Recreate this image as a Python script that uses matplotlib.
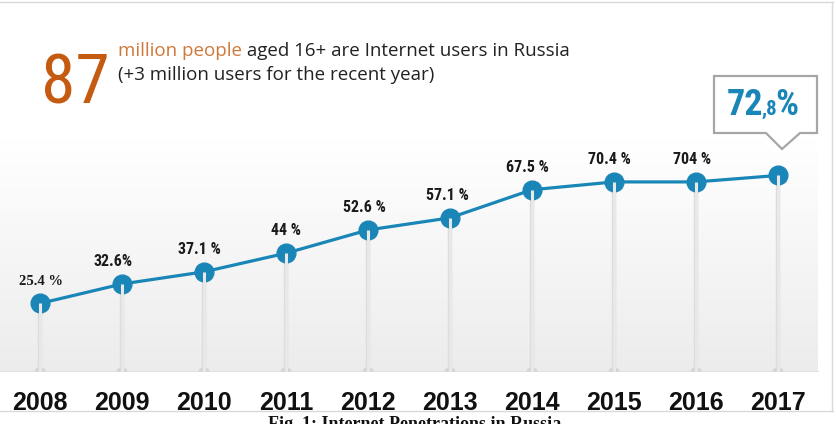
import matplotlib
matplotlib.use("Agg")
import matplotlib.pyplot as plt
import numpy as np
from matplotlib.patches import Polygon, Ellipse
from matplotlib.colors import LinearSegmentedColormap

years = ["2008", "2009", "2010", "2011", "2012", "2013", "2014", "2015", "2016", "2017"]
values = [25.4, 32.6, 37.1, 44.0, 52.6, 57.1, 67.5, 70.4, 70.4, 72.8]
value_labels = ["25.4 %", "32.6%", "37.1 %", "44 %", "52.6 %", "57.1 %", "67.5 %", "70.4 %", "704 %", ""]
headline_number = "87"
headline_line1_a = "million people"
headline_line1_b = " aged 16+ are Internet users in Russia"
headline_line2 = "(+3 million users for the recent year)"
callout_parts = ["72", ",8", "%"]
caption = "Fig. 1: Internet Penetrations in Russia"

W, H = 837, 424
BLUE = "#1a86b8"
ORANGE = "#c55a11"
ORANGE_L = "#d0783a"
GRAY = "#d9d9d9"
NARROW = ["Liberation Sans Narrow", "Roboto Condensed", "DejaVu Sans"]

fig = plt.figure(figsize=(W / 100, H / 100), dpi=100)
fig.patch.set_facecolor("white")

# main axes: x pixel = 40 + 82*i ; y pixel = 372 - 2.7*v
base_px = 372
ppv = 2.7
ax = fig.add_axes([0, (H - base_px) / H, 1, base_px / H])
ax.set_xlim(-40 / 82, (W - 40) / 82)
ax.set_ylim(0, base_px / ppv)
ax.axis("off")

x = np.arange(len(years))

# gradient panel (white at top, light gray at bottom)
panel_top = (base_px - 140) / ppv
grad = np.linspace(0.0, 1.0, 256).reshape(-1, 1)
cmap = LinearSegmentedColormap.from_list("g", ["#ececec", "#ffffff"])
ax.imshow(grad, extent=(-40 / 82, (818 - 40) / 82, 0, panel_top), origin="lower",
          cmap=cmap, aspect="auto", zorder=0, vmin=0, vmax=1)
ax.plot([-40 / 82, (818 - 40) / 82], [0, 0], color="#e0e0e0", lw=1.5, zorder=1)

# stems
for xi, v in zip(x, values):
    ax.plot([xi, xi], [0, v], color="#dcdcdc", lw=3.2, solid_capstyle="butt", zorder=2)
    ax.add_patch(Ellipse((xi, 0.5), 0.11, 1.8, color="#d6d6d6", zorder=2))

ax.plot(x, values, color=BLUE, lw=2.3, zorder=3)
ax.plot(x, values, "o", color=BLUE, ms=13.5, zorder=4)
for xi, v in zip(x, values):
    ax.plot([xi, xi], [0, v], color="#e8e8e8", lw=2.2, solid_capstyle="butt", zorder=5)

# value labels
dxs = [1, -9, -4, 0, -3, -2, -4, -4, -4, 0]
for i, (xi, v, lab) in enumerate(zip(x, values, value_labels)):
    if not lab:
        continue
    if i == 0:
        fam, size = ["Liberation Serif", "DejaVu Serif"], 10.5
    else:
        fam, size = NARROW, 11.5
    ax.annotate(lab, (xi, v), xytext=(dxs[i] * 0.75, 16), textcoords="offset points",
                ha="center", va="center", fontsize=size, fontweight="bold",
                family=fam, color="#1a1a1a", zorder=6)

# year labels
for xi, yl in zip(x, years):
    ax.text(xi, -31 / ppv, yl, ha="center", va="center", fontsize=18,
            fontweight="bold", family=["Liberation Sans", "DejaVu Sans"], color="#111111")

# overlay in pixel coordinates
ov = fig.add_axes([0, 0, 1, 1], zorder=10)
ov.set_xlim(0, W)
ov.set_ylim(H, 0)
ov.axis("off")
ov.patch.set_alpha(0)

# frame lines
ov.plot([0, 833], [1.5, 1.5], color=GRAY, lw=1)
ov.plot([832.5, 832.5], [1.5, 411], color=GRAY, lw=1)
ov.plot([0, 833], [411, 411], color=GRAY, lw=1)

# headline
ov.text(110, 103, headline_number, fontsize=50, color=ORANGE,
        family=NARROW, ha="right", va="baseline")
t1 = ov.text(118, 56, headline_line1_a, fontsize=13.5, color=ORANGE_L,
             family=["Open Sans", "DejaVu Sans"], va="baseline")
fig.canvas.draw()
bb = t1.get_window_extent()
ov.text(118 + bb.width, 56, headline_line1_b, fontsize=13.5, color="#222222",
        family=["Open Sans", "DejaVu Sans"], va="baseline")
ov.text(118, 80, headline_line2, fontsize=13.5, color="#222222",
        family=["Open Sans", "DejaVu Sans"], va="baseline")

# callout
box = [(714, 76), (817, 76), (817, 133), (800, 133), (782, 149), (766, 133), (714, 133)]
ov.add_patch(Polygon(box, closed=True, facecolor="white", edgecolor="#a6a6a6", lw=1.6))
t72 = ov.text(763, 115, callout_parts[0], fontsize=26, fontweight="bold", color=BLUE,
              family=NARROW, ha="right", va="baseline")
t8 = ov.text(762, 115, callout_parts[1], fontsize=15, fontweight="bold", color=BLUE,
             family=NARROW, ha="left", va="baseline")
fig.canvas.draw()
b8 = t8.get_window_extent()
ov.text(b8.x1 - 2, 115, callout_parts[2], fontsize=26, fontweight="bold", color=BLUE,
        family=NARROW, ha="left", va="baseline")

# caption (cut off at the bottom, as in the reference)
ov.text(415, 429, caption, fontsize=13, fontweight="bold", color="#111111",
        family=["Liberation Serif", "DejaVu Serif"], ha="center", va="baseline")

fig.savefig("out.png", dpi=100)
